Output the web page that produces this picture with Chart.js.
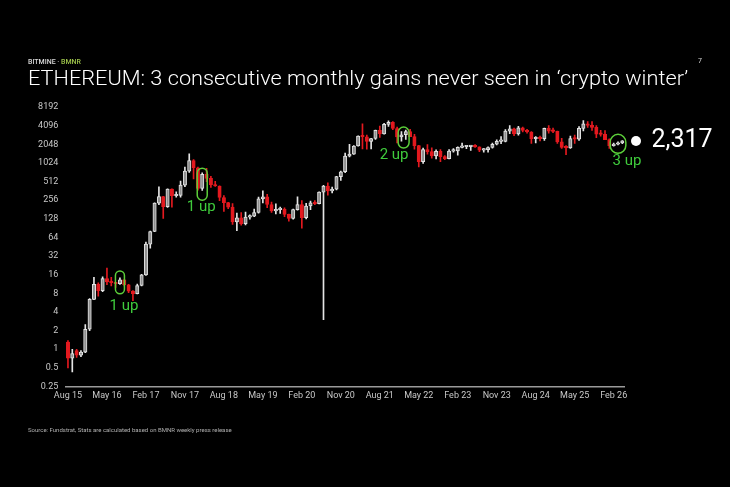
<!DOCTYPE html>
<html>
<head>
<meta charset="utf-8">
<script src="https://cdn.jsdelivr.net/npm/chart.js@4.4.1/dist/chart.umd.min.js"></script>
<style>
html, body { margin: 0; padding: 0; background: #000; width: 730px; height: 487px; overflow: hidden; font-family: Roboto, "Liberation Sans", sans-serif; }
#wrap { position: relative; width: 730px; height: 487px; }
#chart { position: absolute; left: 0; top: 0; }
.brand { position: absolute; left: 28px; top: 59px; font-size: 7px; line-height: 7px; font-weight: 500; color: #d8d8d8; white-space: nowrap; }
.brand span { color: #9cc24a; }
h1 { position: absolute; left: 28px; top: 68px; margin: 0; font-weight: 300; font-size: 20px; line-height: 20px; color: #fff; white-space: nowrap; transform-origin: 0 0; }
.page { position: absolute; left: 698px; top: 58px; font-size: 7px; line-height: 7px; color: #d8d8d8; }
.src { position: absolute; left: 28px; top: 427px; font-size: 6px; line-height: 6px; color: #b0b0b0; white-space: nowrap; }
</style>
</head>
<body>
<div id="wrap">
  <canvas id="chart" width="730" height="487"></canvas>
  <div class="brand">BITMINE · <span>BMNR</span></div>
  <h1 id="title">ETHEREUM: 3 consecutive monthly gains never seen in ‘crypto winter’</h1>
  <div class="page">7</div>
  <div class="src">Source: Fundstrat, Stats are calculated based on BMNR weekly press release</div>
</div>
<script>
// monthly candles, first one sits on the "Aug 15" tick
const tickLabels = ['Aug 15', 'May 16', 'Feb 17', 'Nov 17', 'Aug 18', 'May 19', 'Feb 20', 'Nov 20',
    'Aug 21', 'May 22', 'Feb 23', 'Nov 23', 'Aug 24', 'May 25', 'Feb 26'];
const tickEvery = 9;

const opens = [
    1.30, 0.72, 0.95, 0.80, 0.90, 2.10, 6.40, 11.2, 8.80, 13.8, 12.2, 11.9, 11.5, 13.2, 11.0, 8.7,
    7.9, 10.7, 15.9, 50, 79.8, 230, 293, 201, 388, 302, 305, 447, 756, 1119, 856, 396,
    670, 577, 455, 433, 283, 233, 198, 114, 133, 107, 136, 141, 162, 268, 291, 218,
    172, 180, 182, 151, 130, 180, 218, 133, 206, 231, 225, 346, 434, 360, 386, 615,
    737, 1314, 1416, 1919, 2773, 2707, 2275, 2536, 3434, 3001, 4288, 4631, 3683, 2689, 2922, 3283,
    2727, 1942, 1067, 1679, 1553, 1328, 1573, 1296, 1196, 1585, 1605, 1822, 1870, 1874, 1934, 1857,
    1645, 1671, 1815, 2052, 2282, 2283, 3340, 3647, 3015, 3762, 3433, 3232, 2513, 2603, 2519, 3705,
    3332, 3300, 2237, 1822, 1794, 2528, 2486, 3698, 4391, 4145, 3848, 2991, 2967, 2440, 1950, 2050,
    2150
];
const highs = [
    1.38, 1.00, 1.00, 0.95, 2.50, 6.60, 14.5, 11.8, 14.8, 20.5, 14.5, 12.1, 14.2, 13.4, 11.2, 8.9,
    11.3, 16.2, 54, 81, 232, 420, 294, 392, 392, 349, 523, 880, 1432, 1161, 880, 709,
    837, 621, 515, 435, 303, 237, 226, 158, 161, 165, 148, 184, 288, 362, 317, 239,
    223, 198, 193, 153, 184, 289, 253, 227, 247, 253, 348, 446, 489, 415, 622, 756,
    1476, 2036, 1944, 2798, 4380, 2893, 2551, 3472, 4027, 4460, 4891, 4778, 3899, 3283, 3479, 3582,
    2958, 1971, 1784, 2030, 1790, 1662, 1678, 1350, 1680, 1744, 1857, 2141, 1928, 1929, 2029, 1870,
    1750, 1865, 2140, 2410, 2717, 3522, 4094, 3730, 3977, 3890, 3560, 3280, 2730, 2770, 3740, 4110,
    3745, 3330, 2550, 1955, 2788, 2880, 3940, 4950, 4770, 4750, 4100, 3450, 3400, 2500, 2150, 2250,
    2350
];
const lows = [
    0.50, 0.43, 0.74, 0.76, 0.88, 2.00, 6.30, 7.20, 8.50, 11.0, 10.5, 10.0, 11.1, 10.5, 8.2, 6.1,
    7.8, 10.5, 15.6, 43, 79, 216, 130, 196, 197, 285, 285, 424, 717, 566, 370, 368,
    508, 413, 425, 251, 168, 187, 104, 82, 101, 102, 126, 139, 158, 232, 193, 162,
    153, 156, 138, 117, 126, 176, 90, 128, 179, 216, 222, 3.0, 308, 334, 374, 535,
    715, 1281, 1400, 1913, 1730, 1706, 1718, 2452, 2652, 2970, 3970, 3525, 2159, 2300, 2450, 2705,
    1700, 881, 1005, 1422, 1220, 1191, 1074, 1150, 1190, 1520, 1370, 1785, 1743, 1627, 1818, 1550,
    1530, 1522, 1770, 2000, 2100, 2240, 3050, 2815, 2860, 3240, 3090, 2110, 2150, 2310, 2360, 3100,
    3150, 2120, 1760, 1385, 1750, 2110, 2370, 3350, 3830, 3440, 2620, 2780, 2600, 1750, 1900, 2000,
    2100
];
const closes = [
    0.72, 0.85, 0.80, 0.90, 2.10, 6.40, 11.2, 8.80, 13.8, 12.2, 11.9, 11.5, 13.2, 11.0, 8.7, 7.9,
    10.7, 15.9, 50, 79.8, 230, 293, 201, 388, 302, 305, 447, 756, 1119, 856, 396, 670,
    577, 455, 433, 283, 233, 198, 114, 133, 107, 136, 141, 162, 268, 291, 218, 172,
    180, 182, 151, 130, 180, 218, 133, 206, 231, 225, 346, 434, 360, 386, 615, 737,
    1314, 1416, 1919, 2773, 2707, 2275, 2536, 3434, 3001, 4288, 4631, 3683, 2689, 2922, 3283, 2727,
    1942, 1067, 1679, 1553, 1328, 1573, 1296, 1196, 1585, 1605, 1822, 1870, 1874, 1934, 1857, 1645,
    1671, 1815, 2052, 2282, 2283, 3340, 3647, 3015, 3762, 3433, 3232, 2513, 2603, 2519, 3705, 3332,
    3300, 2237, 1822, 1794, 2528, 2486, 3698, 4391, 4145, 3848, 2991, 2967, 2440, 1950, 2050, 2150,
    2317
];
const yTicks = [0.25, 0.5, 1, 2, 4, 8, 16, 32, 64, 128, 256, 512, 1024, 2048, 4096, 8192];
const lastPrice = 2317;

// "n up" call-outs: candle index range and the price band the capsule wraps
const callouts = [
    { text: '1 up', from: 12, to: 12, lo: 7.9, hi: 18.4, pad: 4.5, dx: 4, dy: 13 },
    { text: '1 up', from: 31, to: 31, lo: 256, hi: 843, pad: 5, dx: -1, dy: 7 },
    { text: '2 up', from: 77, to: 78, lo: 1780, hi: 3880, pad: 3.3, dx: -9.5, dy: 7.5 },
    { text: '3 up', from: 126, to: 128, lo: 1460, hi: 2960, pad: 3.5, dx: 9, dy: 8 }
];

const UP_FILL = '#8f8f8f';
const UP_EDGE = '#e4e4e4';
const DOWN = '#e3191f';
const GREEN = '#3fcb3c';
const RING = '#5ccf3a';
const AXIS_TEXT = '#c8c8c8';

const categories = opens.map((_, i) => i);
const isUp = opens.map((o, i) => closes[i] >= o);

// squeeze the title to the width it takes on the slide
const title = document.getElementById('title');
title.style.transform = 'scaleX(' + (660 / title.getBoundingClientRect().width) + ')';

const calloutPlugin = {
    id: 'callouts',
    afterDatasetsDraw(chart) {
        const { ctx, chartArea } = chart;
        const x = chart.scales.x, y = chart.scales.y;
        ctx.save();
        ctx.strokeStyle = RING;
        ctx.fillStyle = GREEN;
        ctx.lineWidth = 1.5;
        ctx.font = '15px Roboto, "Liberation Sans", sans-serif';
        ctx.textAlign = 'center';
        ctx.textBaseline = 'middle';
        callouts.forEach(c => {
            const x0 = x.getPixelForValue(c.from) - c.pad;
            const x1 = x.getPixelForValue(c.to) + c.pad;
            const top = y.getPixelForValue(c.hi);
            const bot = y.getPixelForValue(c.lo);
            const r = Math.min((x1 - x0) / 2, (bot - top) / 2);
            ctx.beginPath();
            ctx.roundRect(x0, top, x1 - x0, bot - top, r);
            ctx.stroke();
            ctx.fillText(c.text, (x0 + x1) / 2 + c.dx, bot + c.dy);
        });

        // last price marker to the right of the plot
        const py = y.getPixelForValue(lastPrice);
        const px = chartArea.right + 11.5;
        ctx.fillStyle = '#fff';
        ctx.beginPath();
        ctx.arc(px, py, 5, 0, Math.PI * 2);
        ctx.fill();
        ctx.font = '25px Roboto, "Liberation Sans", sans-serif';
        ctx.textAlign = 'left';
        ctx.textBaseline = 'alphabetic';
        ctx.fillText(lastPrice.toLocaleString('en-US'), px + 15.5, py + 6);
        ctx.restore();
    }
};

new Chart(document.getElementById('chart'), {
    type: 'bar',
    data: {
        labels: categories,
        datasets: [{
            label: 'Body',
            data: opens.map((o, i) => [o, closes[i]]),
            backgroundColor: isUp.map(u => u ? UP_FILL : DOWN),
            borderColor: isUp.map(u => u ? UP_EDGE : DOWN),
            borderWidth: 1,
            borderSkipped: false,
            barThickness: 3.4,
            minBarLength: 1.5,
            grouped: false,
            order: 0
        }, {
            label: 'Wick',
            data: lows.map((l, i) => [l, highs[i]]),
            backgroundColor: isUp.map(u => u ? UP_EDGE : DOWN),
            barThickness: 1,
            grouped: false,
            order: 1
        }]
    },
    options: {
        responsive: false,
        animation: false,
        layout: { padding: { left: 0, right: 105.5, top: 107, bottom: 80.5 } },
        plugins: { legend: { display: false }, tooltip: { enabled: false } },
        scales: {
            x: {
                type: 'category',
                offset: true,
                grid: { display: false, drawTicks: false },
                border: { display: true, color: '#9a9a9a', width: 1.5 },
                afterBuildTicks: s => { s.ticks = s.ticks.filter(t => t.value % tickEvery === 0); },
                afterFit: s => { s.height = 20; },
                ticks: {
                    autoSkip: false,
                    maxRotation: 0,
                    padding: 4,
                    color: AXIS_TEXT,
                    font: { family: 'Roboto', size: 9 },
                    callback: v => tickLabels[v / tickEvery]
                }
            },
            y: {
                type: 'logarithmic',
                min: 0.25,
                max: 8192,
                grid: { display: false, drawTicks: false },
                border: { display: false },
                afterBuildTicks: s => { s.ticks = yTicks.map(v => ({ value: v })); },
                afterFit: s => { s.width = 65.8; },
                ticks: {
                    padding: 7.5,
                    color: AXIS_TEXT,
                    font: { family: 'Roboto', size: 9 },
                    callback: v => String(v)
                }
            }
        }
    },
    plugins: [calloutPlugin]
});
</script>
</body>
</html>
